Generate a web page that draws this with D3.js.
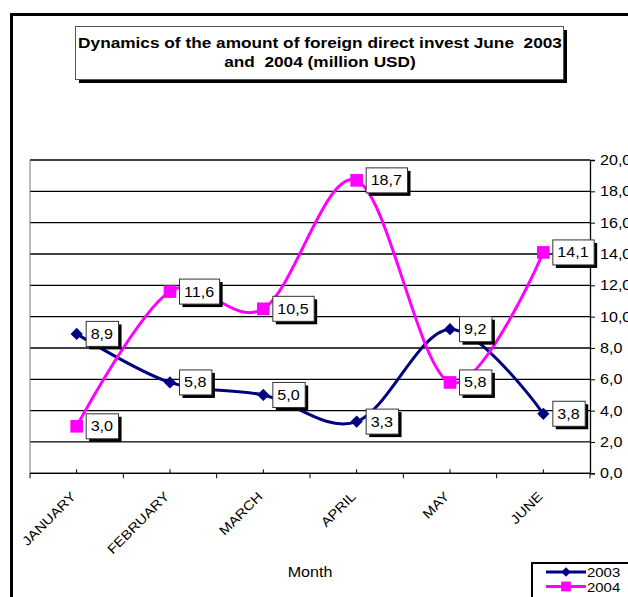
<!DOCTYPE html>
<html>
<head>
<meta charset="utf-8">
<script src="https://cdn.jsdelivr.net/npm/d3@7"></script>
<style>
    body { margin: 0; background: #fff; }
    svg { display: block; font-family: Arial, "Liberation Sans", sans-serif; }
</style>
</head>
<body>
<div id="chart"></div>
<script>
// chart data
let months = ["JANUARY", "FEBRUARY", "MARCH", "APRIL", "MAY", "JUNE"];
let values2003 = [8.9, 5.8, 5.0, 3.3, 9.2, 3.8];
let values2004 = [3.0, 11.6, 10.5, 18.7, 5.8, 14.1];
let yTicks = [0, 2, 4, 6, 8, 10, 12, 14, 16, 18, 20];
let seriesNames = ["2003", "2004"];
let titleLines = ["Dynamics of the amount of foreign direct invest June  2003", "and  2004 (million USD)"];

let width = 628, height = 597;
let plot = { left: 30, right: 590, top: 160, bottom: 473.3 };
// the original text is a little wider than it is tall
let stretch = 1.15;

let fmt = d3.formatLocale({ decimal: ",", thousands: ".", grouping: [3], currency: ["", ""] }).format(".1f");

let svg = d3.select("#chart")
    .append("svg")
    .attr("width", width)
    .attr("height", height);

// outer chart frame (runs off the right and bottom edge)
svg.append("rect")
    .attr("x", 11.5)
    .attr("y", 14.5)
    .attr("width", 800)
    .attr("height", 800)
    .attr("fill", "none")
    .attr("stroke", "#000")
    .attr("stroke-width", 3);

// title box with shadow
let titleG = svg.append("g");
titleG.append("rect")
    .attr("x", 79).attr("y", 30)
    .attr("width", 488).attr("height", 53)
    .attr("fill", "#000");
titleG.append("rect")
    .attr("x", 75.5).attr("y", 26.5)
    .attr("width", 488).attr("height", 53)
    .attr("fill", "#fff")
    .attr("stroke", "#555")
    .attr("stroke-width", 1);
titleG.selectAll("text")
    .data(titleLines)
    .enter()
    .append("text")
    .attr("transform", (d, i) => "translate(320," + (48 + i * 19) + ") scale(" + stretch + ",1)")
    .attr("text-anchor", "middle")
    .attr("font-size", "15px")
    .attr("font-weight", "bold")
    .attr("fill", "#000")
    .style("white-space", "pre")
    .text(d => d);

// scales
let x = d3.scaleBand()
    .domain(months)
    .range([plot.left, plot.right]);
let y = d3.scaleLinear()
    .domain([0, 20])
    .range([plot.bottom, plot.top]);
let cx = m => x(m) + x.bandwidth() / 2;

// gridlines
svg.append("g")
    .selectAll("line")
    .data(yTicks)
    .enter()
    .append("line")
    .attr("x1", plot.left).attr("x2", plot.right)
    .attr("y1", d => y(d)).attr("y2", d => y(d))
    .attr("stroke", "#000")
    .attr("stroke-width", 1.3);

// plot area left border
svg.append("line")
    .attr("x1", plot.left).attr("x2", plot.left)
    .attr("y1", plot.top).attr("y2", plot.bottom)
    .attr("stroke", "#777")
    .attr("stroke-width", 1);

// y axis on the right
let yAxis = svg.append("g")
    .attr("transform", "translate(" + plot.right + ",0)")
    .call(d3.axisRight(y).tickValues(yTicks).tickFormat(fmt).tickSize(5).tickPadding(5));
yAxis.select(".domain").attr("stroke", "#000").attr("stroke-width", 1.3);
yAxis.selectAll(".tick text")
    .attr("font-size", "14px")
    .attr("font-family", "Arial, 'Liberation Sans', sans-serif")
    .attr("fill", "#000")
    .attr("x", null)
    .attr("transform", "translate(10,0) scale(" + stretch + ",1)");

// x axis: ticks between categories go down, ticks at categories go up
let xAxis = svg.append("g");
xAxis.append("line")
    .attr("x1", plot.left).attr("x2", plot.right)
    .attr("y1", plot.bottom).attr("y2", plot.bottom)
    .attr("stroke", "#000")
    .attr("stroke-width", 1.3);
xAxis.selectAll(".between")
    .data(months.concat([null]))
    .enter()
    .append("line")
    .attr("x1", (d, i) => plot.left + i * x.bandwidth())
    .attr("x2", (d, i) => plot.left + i * x.bandwidth())
    .attr("y1", plot.bottom).attr("y2", plot.bottom + 5)
    .attr("stroke", "#000");
xAxis.selectAll(".center")
    .data(months)
    .enter()
    .append("line")
    .attr("x1", d => cx(d)).attr("x2", d => cx(d))
    .attr("y1", plot.bottom - 4).attr("y2", plot.bottom)
    .attr("stroke", "#000");
xAxis.selectAll("text")
    .data(months)
    .enter()
    .append("text")
    .attr("transform", d => "translate(" + cx(d) + "," + (plot.bottom + 24) + ") rotate(-45) scale(" + stretch + ",1)")
    .attr("text-anchor", "end")
    .attr("font-size", "13px")
    .attr("fill", "#000")
    .text(d => d);

svg.append("text")
    .attr("transform", "translate(" + ((plot.left + plot.right) / 2) + ",577) scale(" + stretch + ",1)")
    .attr("text-anchor", "middle")
    .attr("font-size", "14px")
    .attr("fill", "#000")
    .text("Month");

// series (diamond = square turned 45 degrees)
let series = [
    { name: seriesNames[0], values: values2003, color: "#000080", shape: d3.symbolSquare, size: 75, rot: 45 },
    { name: seriesNames[1], values: values2004, color: "#ff00ff", shape: d3.symbolSquare, size: 160, rot: 0 }
];

let line = d3.line()
    .x((d, i) => cx(months[i]))
    .y(d => y(d))
    .curve(d3.curveCardinal.tension(0));

series.forEach(s => {
    svg.append("path")
        .attr("d", line(s.values))
        .attr("fill", "none")
        .attr("stroke", s.color)
        .attr("stroke-width", 3);
});

series.forEach(s => {
    svg.append("g")
        .selectAll("path")
        .data(s.values)
        .enter()
        .append("path")
        .attr("transform", (d, i) => "translate(" + cx(months[i]) + "," + y(d) + ") rotate(" + s.rot + ")")
        .attr("d", d3.symbol().type(s.shape).size(s.size))
        .attr("fill", s.color);
});

// data labels in boxes with shadow
series.forEach(s => {
    let lab = svg.append("g")
        .selectAll("g")
        .data(s.values)
        .enter()
        .append("g")
        .attr("transform", (d, i) => "translate(" + (cx(months[i]) + 9) + "," + (y(d) - 13) + ")");
    lab.append("rect")
        .attr("class", "shadow")
        .attr("x", 3.5).attr("y", 3.5)
        .attr("height", 25)
        .attr("fill", "#000");
    lab.append("rect")
        .attr("class", "box")
        .attr("x", 0.5).attr("y", 0.5)
        .attr("height", 25)
        .attr("fill", "#fff")
        .attr("stroke", "#333")
        .attr("stroke-width", 1);
    lab.append("text")
        .attr("transform", "translate(5,18) scale(" + stretch + ",1)")
        .attr("font-size", "14px")
        .attr("fill", "#000")
        .text(d => fmt(d));
    lab.each(function () {
        let g = d3.select(this);
        let w = g.select("text").node().getComputedTextLength() * stretch + 10;
        g.selectAll("rect").attr("width", w);
    });
});

// legend
let legend = svg.append("g")
    .attr("transform", "translate(532,563)");
legend.append("rect")
    .attr("x", 0).attr("y", 0)
    .attr("width", 120).attr("height", 60)
    .attr("fill", "#fff")
    .attr("stroke", "#000")
    .attr("stroke-width", 2);
let item = legend.selectAll(".item")
    .data(series)
    .enter()
    .append("g")
    .attr("transform", (d, i) => "translate(0," + (9 + i * 14.5) + ")");
item.append("line")
    .attr("x1", 14).attr("x2", 54)
    .attr("stroke", d => d.color)
    .attr("stroke-width", 3);
item.append("path")
    .attr("transform", d => "translate(34,0) rotate(" + d.rot + ")")
    .attr("d", d => d3.symbol().type(d.shape).size(d.size * 0.6)())
    .attr("fill", d => d.color);
item.append("text")
    .attr("transform", "translate(55,5) scale(" + stretch + ",1)")
    .attr("font-size", "13px")
    .attr("fill", "#000")
    .text(d => d.name);
</script>
</body>
</html>
